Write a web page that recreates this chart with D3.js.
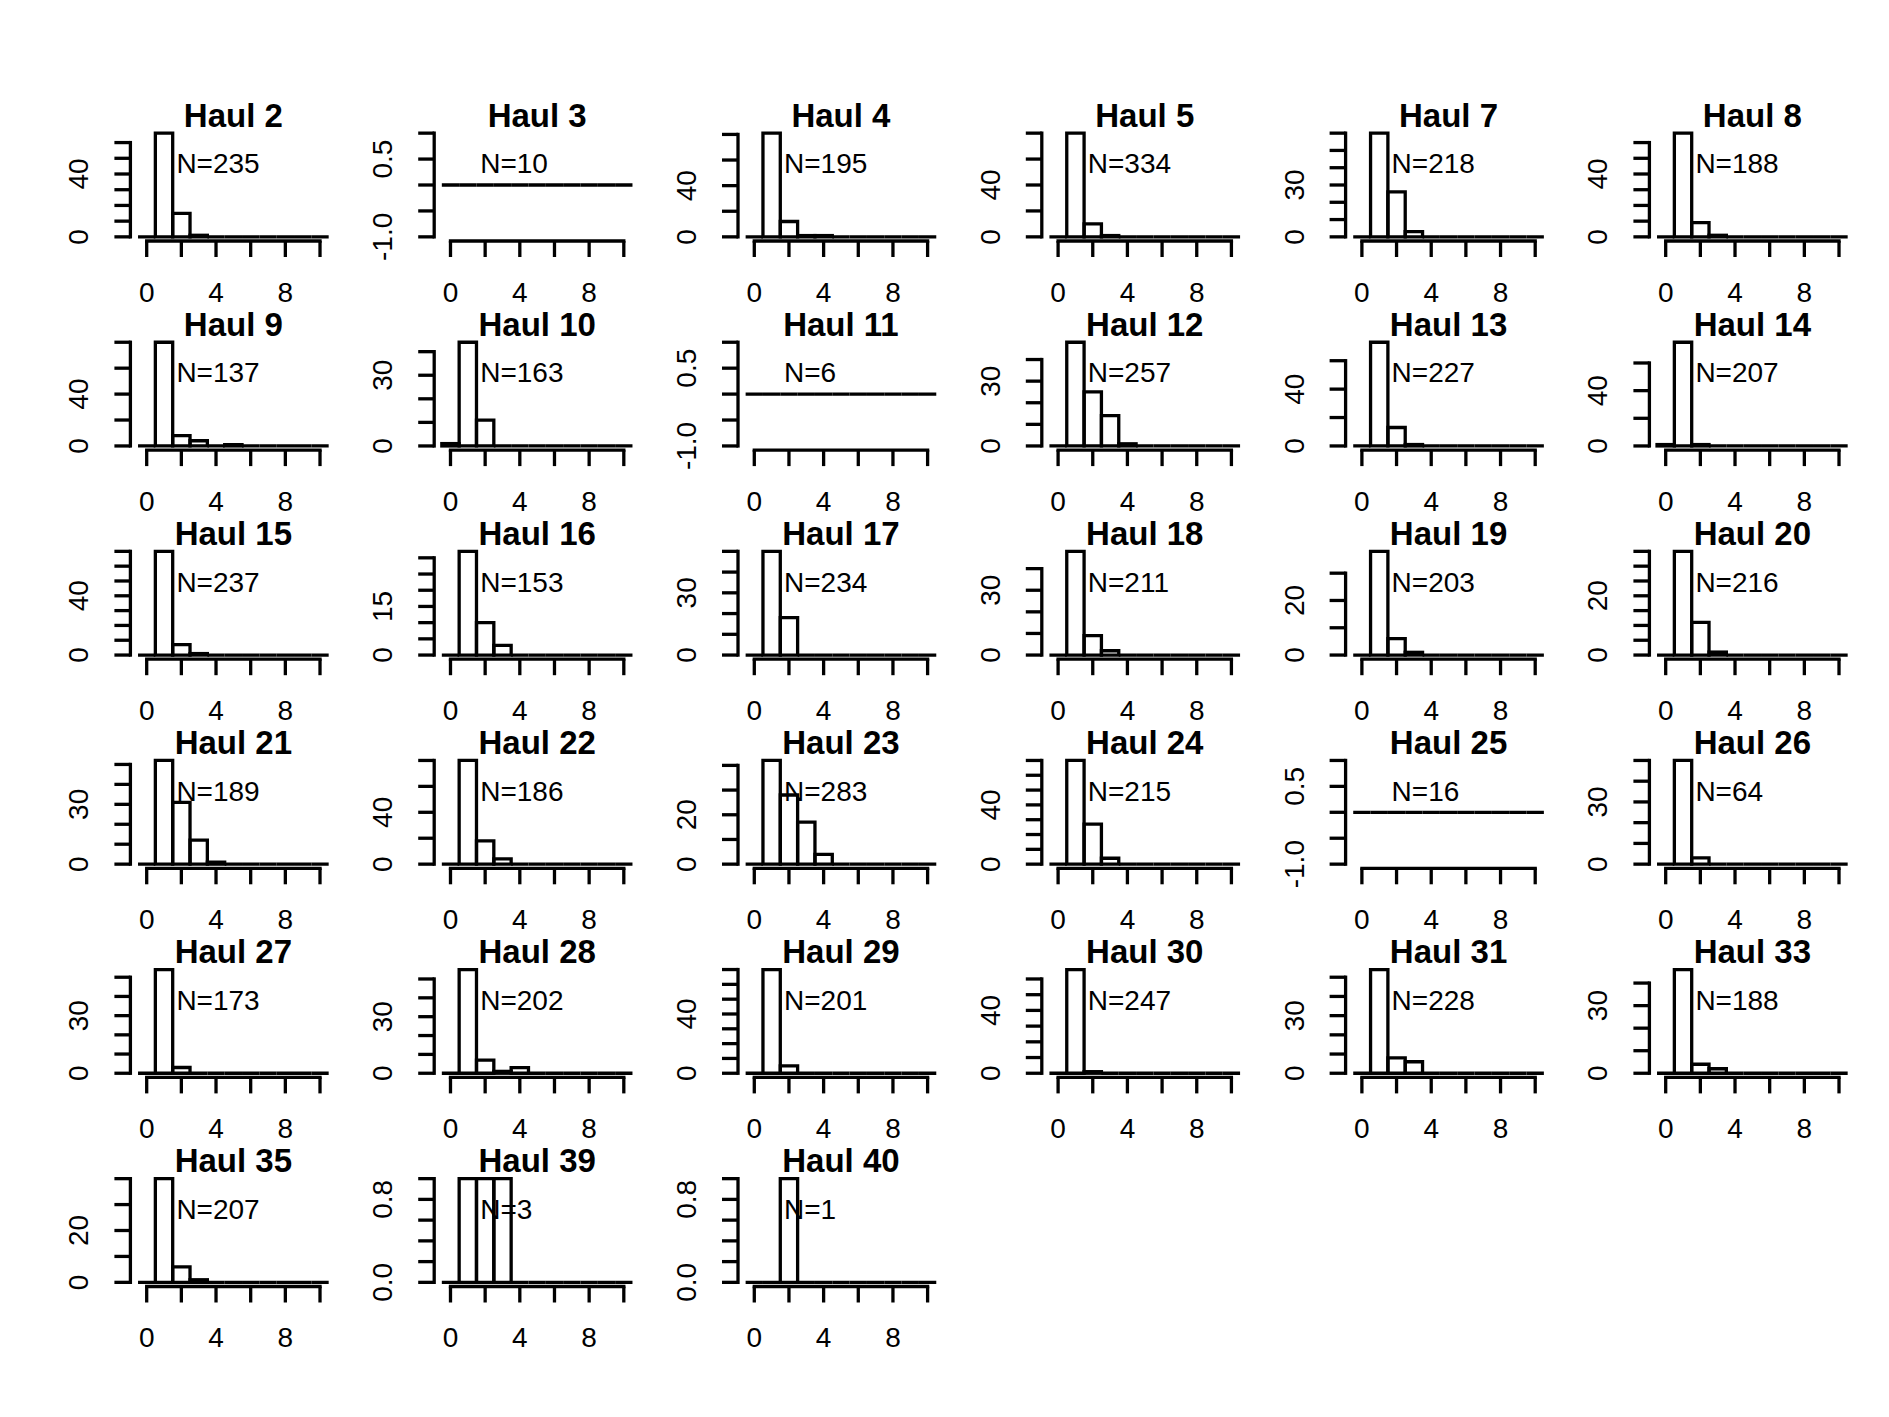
<!DOCTYPE html>
<html>
<head>
<meta charset="utf-8">
<script src="https://cdn.jsdelivr.net/npm/d3@7"></script>
<style>
  html, body { margin: 0; padding: 0; background: #ffffff; }
  svg { display: block; }
  text { font-family: "Liberation Sans", Arial, Helvetica, sans-serif; fill: #000; }
</style>
</head>
<body>
<svg id="chart" width="1889" height="1417"></svg>
<script>
// ---- data ----
const hauls = [2,3,4,5,7,8, 9,10,11,12,13,14, 15,16,17,18,19,20, 21,22,23,24,25,26, 27,28,29,30,31,33, 35,39,40];
const nValues = [235,10,195,334,218,188, 137,163,6,257,227,207, 237,153,234,211,203,216, 189,186,283,215,16,64, 173,202,201,247,228,188, 207,3,1];
// counts per integer bin starting at value 0 (bins centred on 0,1,2,...,10)
const counts = [
  [0,66,15,1], [], [0,81,12,1,1], [0,80,10,1], [0,60,26,3], [0,66,9,1],
  [0,80,8,4,0,1], [1,44,11], [], [0,48,25,14,1], [0,73,13,1], [1,75,1],
  [0,70,7,1], [0,32,10,3], [0,50,18], [0,48,9,2], [0,38,6,1], [0,35,11,1],
  [0,52,31,12,1], [0,80,18,4], [0,42,28,17,4], [0,70,27,4], [], [0,50,3],
  [0,54,3], [0,55,7,1,3], [0,70,5], [0,66,1], [0,54,8,6], [0,46,4,2],
  [0,40,6,1], [0,1,1,1], [0,0,1]
];
// y tick labels that are printed on each panel
const yLabels = [
  [0,40],[-1,0.5],[0,40],[0,40],[0,30],[0,40],
  [0,40],[0,30],[-1,0.5],[0,30],[0,40],[0,40],
  [0,40],[0,15],[0,30],[0,30],[0,20],[0,20],
  [0,30],[0,40],[0,20],[0,40],[-1,0.5],[0,30],
  [0,30],[0,30],[0,40],[0,40],[0,30],[0,30],
  [0,20],[0,0.8],[0,0.8]
];
const binEdges = [-0.5,0.5,1.5,2.5,3.5,4.5,5.5,6.5,7.5,8.5,9.5,10.5];
const xTicks = [0,2,4,6,8,10];
const xLabels = [0,4,8];

// ---- layout ----
const nCols = 6;
const colStep = 303.8, rowStep = 209.1;
const left0 = 130.4, top0 = 129.0;
const plotW = 205.9, plotH = 112.0;
const lw = 3.3;
const tickLen = 16;
const fontSize = 28;
const titleSize = 33;

const svg = d3.select("#chart");
svg.append("rect").attr("width", 1889).attr("height", 1417).attr("fill", "#fff");

function pad(dom) {
  const d = (dom[1] - dom[0]) * 0.04;
  return [dom[0] - d, dom[1] + d];
}
function fmtY(v, frac) {
  return frac ? v.toFixed(1) : String(v);
}

hauls.forEach((h, i) => {
  const r = Math.floor(i / nCols), c = i % nCols;
  const L = left0 + c * colStep, T = top0 + r * rowStep;
  const R = L + plotW, B = T + plotH;
  const cnt = binEdges.slice(0, -1).map((_, k) => counts[i][k] || 0);
  const maxC = d3.max(cnt);
  const yDom = maxC > 0 ? [0, maxC] : [-1, 1];
  const frac = maxC <= 1;
  const x = d3.scaleLinear().domain(pad([binEdges[0], binEdges[binEdges.length - 1]])).range([L, R]);
  const y = d3.scaleLinear().domain(pad(yDom)).range([B, T]);
  const g = svg.append("g");

  // bars (zero-height bins render as flat lines)
  cnt.forEach((v, k) => {
    const x0 = x(binEdges[k]), x1 = x(binEdges[k + 1]);
    const y0 = y(0), y1 = y(v);
    g.append("path")
      .attr("d", `M${x0},${y0}V${y1}H${x1}V${y0}Z`)
      .attr("fill", "none").attr("stroke", "#000")
      .attr("stroke-width", lw).attr("stroke-linejoin", "miter");
  });

  // x axis
  const xa = g.append("g");
  xa.append("line").attr("x1", x(xTicks[0])).attr("x2", x(xTicks[xTicks.length - 1]))
    .attr("y1", B).attr("y2", B).attr("stroke", "#000").attr("stroke-width", lw).attr("stroke-linecap", "square");
  xTicks.forEach(t => {
    xa.append("line").attr("x1", x(t)).attr("x2", x(t)).attr("y1", B).attr("y2", B + tickLen)
      .attr("stroke", "#000").attr("stroke-width", lw);
  });
  xLabels.forEach(t => {
    xa.append("text").attr("x", x(t)).attr("y", B + 60.7).attr("text-anchor", "middle")
      .attr("font-size", fontSize).text(t);
  });

  // y axis
  const yt = d3.ticks(yDom[0], yDom[1], 5);
  const ya = g.append("g");
  ya.append("line").attr("x1", L).attr("x2", L).attr("y1", y(yt[0])).attr("y2", y(yt[yt.length - 1]))
    .attr("stroke", "#000").attr("stroke-width", lw).attr("stroke-linecap", "square");
  yt.forEach(t => {
    ya.append("line").attr("x1", L).attr("x2", L - tickLen).attr("y1", y(t)).attr("y2", y(t))
      .attr("stroke", "#000").attr("stroke-width", lw);
  });
  yLabels[i].forEach(t => {
    const px = L - 42, py = y(t);
    ya.append("text").attr("transform", `translate(${px},${py}) rotate(-90)`)
      .attr("text-anchor", "middle").attr("font-size", fontSize).text(fmtY(t, frac || yDom[0] < 0));
  });

  // title
  g.append("text").attr("x", (L + R) / 2).attr("y", T - 2.3).attr("text-anchor", "middle")
    .attr("font-size", titleSize).attr("font-weight", "bold").text("Haul " + h);

  // N label
  g.append("text").attr("x", L + 46).attr("y", T + 44.3).attr("font-size", fontSize)
    .text("N=" + nValues[i]);
});
</script>
</body>
</html>
